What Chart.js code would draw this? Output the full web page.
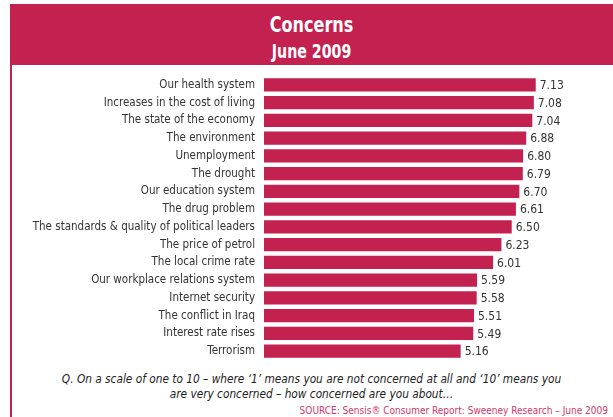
<!DOCTYPE html>
<html>
<head>
<meta charset="utf-8">
<script src="https://cdn.jsdelivr.net/npm/chart.js@4"></script>
<style>
  body { margin: 0; background: #fff; }
  #wrap { position: relative; width: 613px; height: 417px; overflow: hidden;
          font-family: 'DejaVu Sans Condensed', 'Liberation Sans Narrow', Roboto, sans-serif; }
  #band { position: absolute; left: 10px; top: 4px; width: 603px; height: 61px; background: #C3214F;
          color: #fff; text-align: center; }
  #band div { position: absolute; left: 0; right: 0; font-weight: bold; transform-origin: 302px 0; }
  #band .t1 { top: 9px; font-size: 21px; transform: scaleX(0.85); }
  #band .t2 { top: 36px; font-size: 19px; transform: scaleX(0.83); }
  #rule { position: absolute; left: 10px; top: 65px; width: 2px; height: 352px; background: #C3214F; }
  #chartBox { position: absolute; left: 0; top: 76px; width: 613px; height: 284px; }
  #note { position: absolute; left: 0; width: 613px; top: 372px; text-align: center; font-style: italic;
          font-size: 11.75px; line-height: 15px; color: #222; padding-left: 10px; box-sizing: border-box; }
  #source { position: absolute; right: 5px; top: 405px; font-size: 10px; color: #D2386A; }
</style>
</head>
<body>
<div id="wrap">
  <div id="band"><div class="t1">Concerns</div><div class="t2">June 2009</div></div>
  <div id="rule"></div>
  <div id="chartBox"><canvas id="concerns"></canvas></div>
  <div id="note">Q. On a scale of one to 10 – where ‘1’ means you are not concerned at all and ‘10’ means you<br>are very concerned – how concerned are you about…</div>
  <div id="source">SOURCE: Sensis® Consumer Report: Sweeney Research – June 2009</div>
</div>
<script>
const concerns = [
  'Our health system', 'Increases in the cost of living', 'The state of the economy',
  'The environment', 'Unemployment', 'The drought', 'Our education system',
  'The drug problem', 'The standards & quality of political leaders', 'The price of petrol',
  'The local crime rate', 'Our workplace relations system', 'Internet security',
  'The conflict in Iraq', 'Interest rate rises', 'Terrorism'
];
const scores = [7.13, 7.08, 7.04, 6.88, 6.80, 6.79, 6.70, 6.61, 6.50, 6.23, 6.01, 5.59, 5.58, 5.51, 5.49, 5.16];

const fontFamily = "'DejaVu Sans Condensed', 'Liberation Sans Narrow', Roboto, sans-serif";

// writes the score just past the end of each bar
const valueLabels = {
  id: 'valueLabels',
  afterDatasetsDraw(chart) {
    const ctx = chart.ctx;
    const meta = chart.getDatasetMeta(0);
    ctx.save();
    ctx.font = '12px ' + fontFamily;
    ctx.fillStyle = '#333';
    ctx.textAlign = 'left';
    ctx.textBaseline = 'middle';
    meta.data.forEach((bar, i) => {
      ctx.fillText(scores[i].toFixed(2), bar.x + 4, bar.y + 1);
    });
    ctx.restore();
  }
};

new Chart(document.getElementById('concerns'), {
  type: 'bar',
  data: {
    labels: concerns,
    datasets: [{
      data: scores,
      backgroundColor: '#C3214F',
      barPercentage: 0.76,
      categoryPercentage: 1
    }]
  },
  options: {
    indexAxis: 'y',
    responsive: true,
    maintainAspectRatio: false,
    animation: false,
    layout: { padding: { left: 0, right: 6, top: 0, bottom: 0 } },
    plugins: { legend: { display: false }, tooltip: { enabled: false } },
    scales: {
      x: { min: 0, max: 9, display: false },
      y: {
        grid: { display: false, drawTicks: false },
        border: { display: false },
        ticks: { color: '#333', padding: 9, font: { family: fontFamily, size: 11.5 } },
        afterFit(scale) {
          scale.width = 264;
          scale.paddingTop = 0;
          scale.paddingBottom = 0;
        }
      }
    }
  },
  plugins: [valueLabels]
});
</script>
</body>
</html>
